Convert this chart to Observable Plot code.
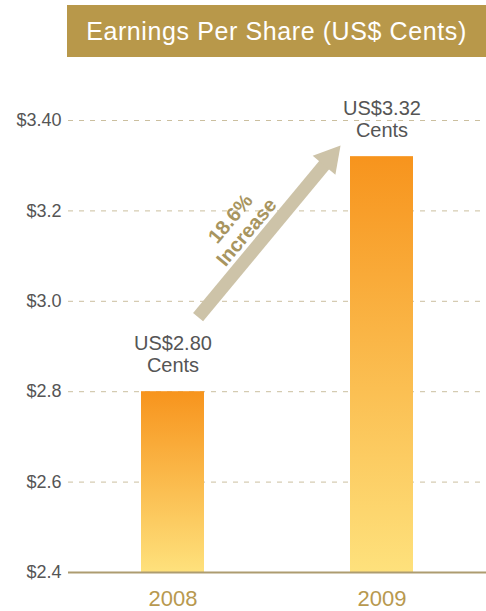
<!DOCTYPE html>
<html>
<head>
<meta charset="utf-8">
<script src="https://cdn.jsdelivr.net/npm/d3@7"></script>
<script src="https://cdn.jsdelivr.net/npm/@observablehq/plot@0.6"></script>
<style>
  html, body { margin: 0; padding: 0; background: #fff; }
  body { width: 486px; height: 611px; overflow: hidden; font-family: "Liberation Sans", Arial, sans-serif; }
  #head { position: relative; height: 60px; }
  #banner { position: absolute; left: 67px; top: 5px; width: 419px; height: 52px; background: #b8984a;
            color: #fff; font-size: 25px; letter-spacing: 0.6px; line-height: 53px; text-align: center; white-space: nowrap; }
  #chart svg { display: block; }
</style>
</head>
<body>
<div id="head"><div id="banner">Earnings Per Share (US$ Cents)</div></div>
<div id="chart"></div>
<script>
// ---- data ----
const years = [2008, 2009];
const eps = [2.80, 3.32];
const valueLabels = ["US$2.80\nCents", "US$3.32\nCents"];
const yTicks = [2.4, 2.6, 2.8, 3.0, 3.2, 3.4];
const yTickLabels = ["$2.4", "$2.6", "$2.8", "$3.0", "$3.2", "$3.40"];
const arrowTail = [2008.12, 2.965];
const arrowHead = [2008.749, 3.3155];
const arrowLabel = "18.6%\nIncrease";
const arrowLabelPos = [2008.313, 3.168];

const bars = years.map((y, i) => ({year: y, value: eps[i], label: valueLabels[i]}));
const halfBar = 0.1507;

const plot = Plot.plot({
  width: 486,
  height: 551,
  marginLeft: 68,
  marginRight: 0,
  marginTop: 60,
  marginBottom: 39,
  style: {fontFamily: "Liberation Sans, Arial, sans-serif", background: "white", overflow: "visible"},
  x: {domain: [2007.5, 2009.5], axis: null},
  y: {domain: [2.4, 3.4], axis: null},
  marks: [
    Plot.ruleY(yTicks.slice(1), {stroke: "#cbbf9f", strokeWidth: 1, strokeDasharray: "5,6"}),
    Plot.rectY(bars, {x1: d => d.year - halfBar, x2: d => d.year + halfBar, y1: 2.4, y2: "value", fill: "url(#barGrad)"}),
    Plot.ruleY([2.4], {stroke: "#ad9c70", strokeWidth: 2}),
    Plot.text(yTicks, {x: 2007.5, y: d => d, text: (d, i) => yTickLabels[i], textAnchor: "end", dx: -7,
      fontSize: 18, fill: "#555", style: "letter-spacing:0.4px"}),
    Plot.text(years, {x: d => d, y: 2.4, text: d => String(d), lineAnchor: "top", dy: 18, fontSize: 22, fill: "#b8994f"}),
    Plot.text(bars, {x: "year", y: "value", text: "label", lineAnchor: "middle", dy: -38, fontSize: 20, lineHeight: 1.1,
      fill: "#555", style: "letter-spacing:0.5px"}),
    Plot.link([{x1: arrowTail[0], y1: arrowTail[1], x2: arrowHead[0], y2: arrowHead[1]}],
      {x1: "x1", y1: "y1", x2: "x2", y2: "y2", stroke: "#cdc3a8", strokeWidth: 13, strokeLinecap: "butt"}),
    Plot.dot([arrowHead], {x: d => d[0], y: d => d[1], symbol: "triangle", r: 11, rotate: 40, fill: "#cdc3a8", stroke: "none"}),
    Plot.text([arrowLabel], {x: arrowLabelPos[0], y: arrowLabelPos[1], text: d => d, rotate: -50, fontSize: 20,
      fontWeight: "bold", fill: "#a8955f", lineHeight: 1.05, lineAnchor: "middle", style: "letter-spacing:0.5px"})
  ]
});

const svgSel = d3.select(plot);
const grad = svgSel.insert("defs", ":first-child").append("linearGradient")
  .attr("id", "barGrad").attr("x1", 0).attr("y1", 0).attr("x2", 0).attr("y2", 1);
grad.append("stop").attr("offset", 0).attr("stop-color", "#f7941d");
grad.append("stop").attr("offset", 1).attr("stop-color", "#fee17c");

document.getElementById("chart").appendChild(plot);
</script>
</body>
</html>
